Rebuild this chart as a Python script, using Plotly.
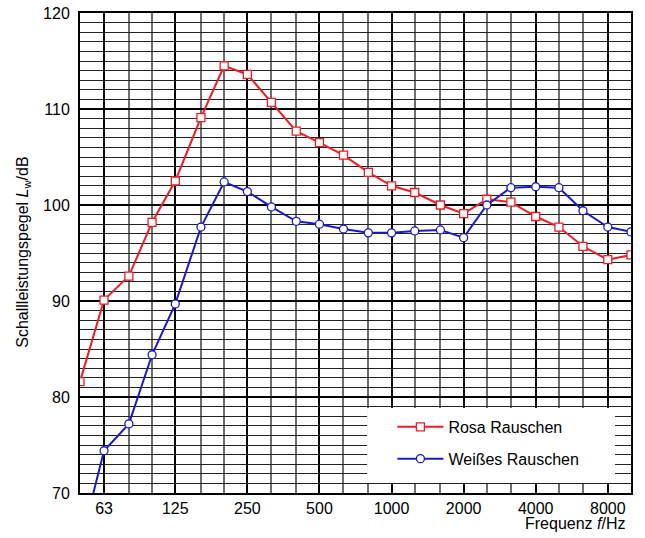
import math
import plotly.graph_objects as go

bands = [50, 63, 80, 100, 125, 160, 200, 250, 315, 400, 500, 630, 800, 1000,
         1250, 1600, 2000, 2500, 3150, 4000, 5000, 6300, 8000, 10000]
rosa = [81.6, 90.1, 92.6, 98.2, 102.5, 109.1, 114.5, 113.6, 110.7, 107.7, 106.5,
        105.2, 103.4, 102.0, 101.3, 100.0, 99.1, 100.6, 100.3, 98.8, 97.7, 95.7,
        94.3, 94.8]
weiss = [64.5, 74.4, 77.2, 84.4, 89.7, 97.7, 102.4, 101.4, 99.8, 98.3, 98.0,
         97.5, 97.1, 97.1, 97.3, 97.4, 96.6, 100.0, 101.8, 101.9, 101.8, 99.4,
         97.7, 97.2]
octave_ticks = [63, 125, 250, 500, 1000, 2000, 4000, 8000]
octave_labels = ["63", "125", "250", "500", "1000", "2000", "4000", "8000"]

FONT = "Liberation Sans, Arial, sans-serif"
RED = "#ee1c24"
BLUE = "#1a1acc"

fig = go.Figure()
fig.add_trace(go.Scatter(
    x=bands, y=rosa, mode="lines+markers", name="Rosa Rauschen",
    legendgroup="a",
    line=dict(color=RED, width=2),
    marker=dict(symbol="square", size=8, color="white",
                line=dict(color=RED, width=1.3)),
))
fig.add_trace(go.Scatter(
    x=bands, y=weiss, mode="lines+markers", name="Weißes Rauschen",
    legendgroup="b",
    line=dict(color=BLUE, width=2),
    marker=dict(symbol="circle", size=8, color="white",
                line=dict(color=BLUE, width=1.3)),
))

fig.update_layout(
    width=645, height=538,
    margin=dict(l=80, r=14, t=13, b=45, autoexpand=False),
    paper_bgcolor="white", plot_bgcolor="white",
    font=dict(family=FONT, size=16, color="black"),
    showlegend=True,
    legend=dict(
        x=0.567, y=0.173, xanchor="left", yanchor="top",
        bgcolor="rgba(0,0,0,0)", borderwidth=0,
        font=dict(family=FONT, size=16, color="black"),
        itemwidth=46, traceorder="grouped", tracegroupgap=8,
    ),
    shapes=[dict(
        type="rect", xref="paper", yref="paper",
        x0=0.521, x1=0.971, y0=0.021, y1=0.177,
        fillcolor="white", line=dict(width=0), layer="above",
    )],
    annotations=[
        dict(text="Schallleistungspegel <i>L</i><sub>w</sub>/dB",
             xref="paper", yref="paper", x=-0.104, y=0.502,
             xanchor="center", yanchor="middle", textangle=-90,
             showarrow=False, font=dict(family=FONT, size=16, color="black")),
        dict(text="Frequenz <i>f</i>/Hz",
             xref="paper", yref="paper", x=0.995, y=-0.064,
             xanchor="right", yanchor="middle",
             showarrow=False, font=dict(family=FONT, size=16, color="black")),
    ],
)

fig.update_xaxes(
    type="log", range=[math.log10(50), math.log10(10000)],
    tickmode="array", tickvals=octave_ticks, ticktext=octave_labels,
    showgrid=True, gridcolor="black", gridwidth=2,
    minor=dict(tickmode="array", tickvals=bands, showgrid=True,
               gridcolor="#6e6e6e", gridwidth=2),
    showline=True, linecolor="black", linewidth=2, mirror=True,
    ticks="", ticklabelstandoff=0, zeroline=False, automargin=False,
    tickfont=dict(family=FONT, size=16, color="black"),
)
fig.update_yaxes(
    range=[70, 120], tickmode="linear", tick0=70, dtick=10,
    showgrid=True, gridcolor="black", gridwidth=2,
    minor=dict(dtick=1, showgrid=True, gridcolor="#222222", gridwidth=1),
    showline=True, linecolor="black", linewidth=2, mirror=True,
    ticks="", ticklabelstandoff=5, zeroline=False, automargin=False,
    tickfont=dict(family=FONT, size=16, color="black"),
)

fig.write_html("out.html",
               config={"displayModeBar": False},
               post_script="document.body.style.margin='0';")
